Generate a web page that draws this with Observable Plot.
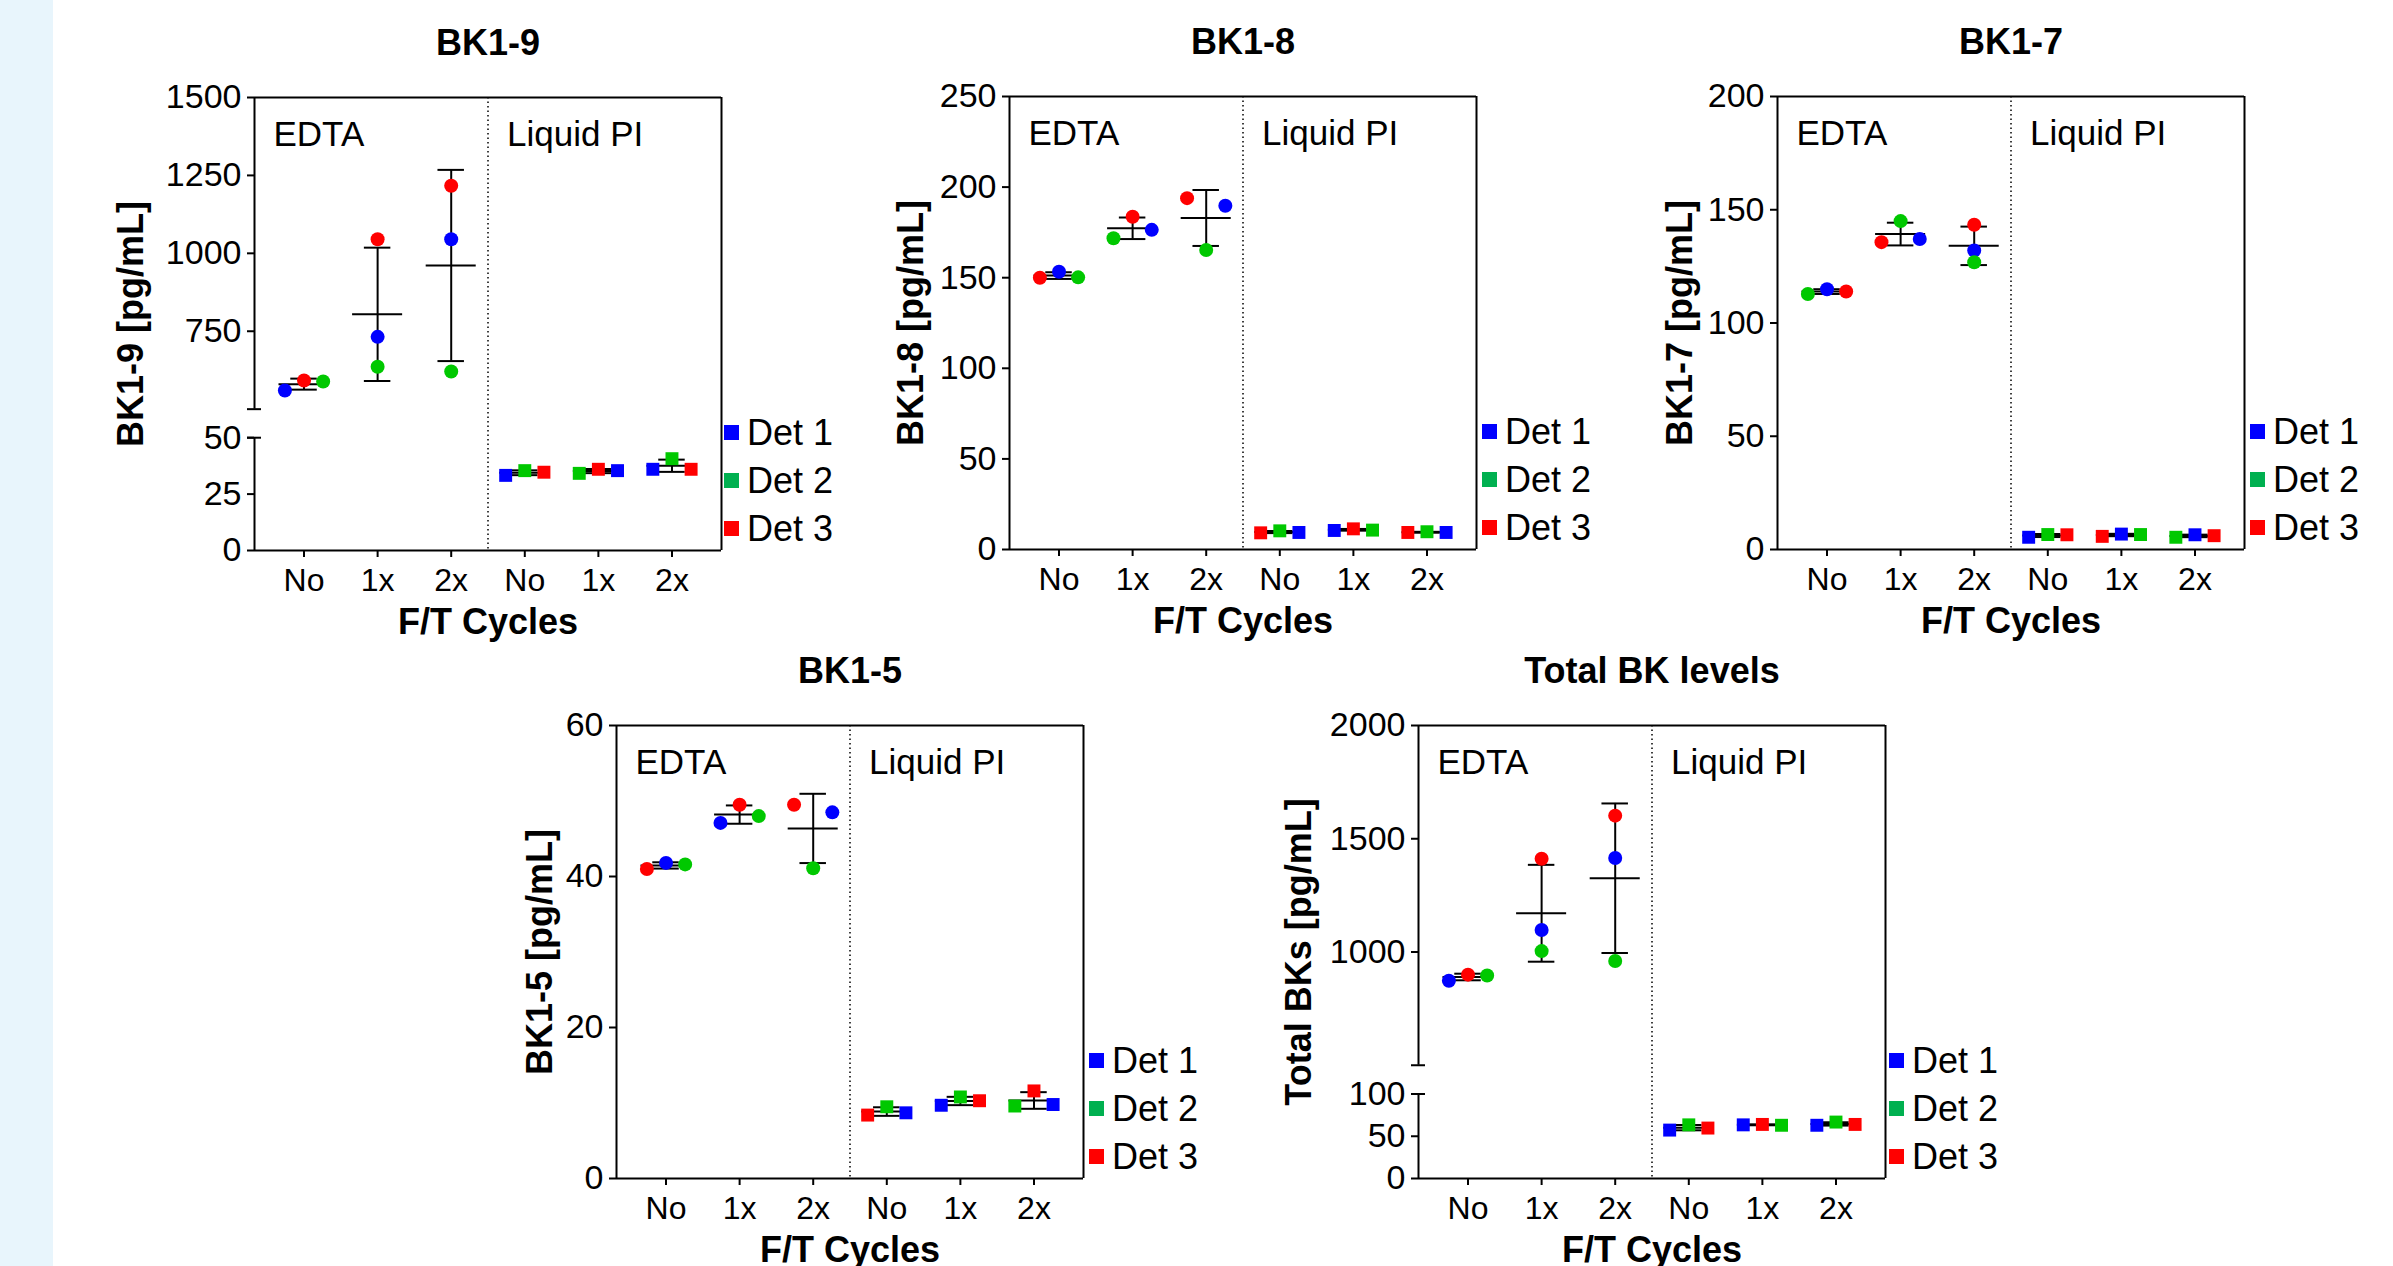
<!DOCTYPE html>
<html><head><meta charset="utf-8">
<script src="https://cdn.jsdelivr.net/npm/d3@7"></script>
<script src="https://cdn.jsdelivr.net/npm/@observablehq/plot@0.6"></script>
<style>
html,body{margin:0;padding:0;background:#fff;width:2393px;height:1266px;overflow:hidden;font-family:"Liberation Sans",Arial,sans-serif;}
#strip{position:absolute;left:0;top:0;width:53px;height:1266px;background:#e8f5fc;}
.panel{position:absolute;}
.leg{position:absolute;display:flex;align-items:center;font-size:36px;color:#000;height:40px;white-space:nowrap;line-height:40px;}
.leg .sq{display:inline-block;width:15px;height:15px;margin-right:8px;}
</style></head><body>
<div id="strip"></div>
<div id="root"></div>
<script>
// ---- categories ----
const cycles = ["No", "1x", "2x", "No", "1x", "2x"];
const groupLabels = ["EDTA", "Liquid PI"];
const detectors = ["Det 1", "Det 2", "Det 3"];
const markerColors = ["#0000ff", "#00c800", "#ff0000"];
const legendColors = ["#0000ff", "#00b050", "#ff0000"];
const xLabel = "F/T Cycles";

// ---- BK1-9 ----
const bk19Det1 = [560, 732, 1045, 33.3, 35.4, 36.0];
const bk19Det2 = [589, 636, 621, 35.4, 34.2, 40.7];
const bk19Det3 = [592, 1045, 1217, 34.7, 36.0, 36.0];
const bk19Slot1 = [-1, 0, 0, -1, 1, -1];
const bk19Slot2 = [1, 0, 0, 0, -1, 0];
const bk19Slot3 = [0, 0, 0, 1, 0, 1];
const bk19Ticks = [0, 25, 50, 750, 1000, 1250, 1500];

// ---- BK1-8 ----
const bk18Det1 = [153.3, 176.4, 189.7, 9.4, 10.5, 9.4];
const bk18Det2 = [150.2, 171.8, 165.3, 10.3, 10.7, 9.8];
const bk18Det3 = [150.0, 183.6, 193.9, 9.2, 11.4, 9.4];
const bk18Slot1 = [0, 1, 1, 1, -1, 1];
const bk18Slot2 = [1, -1, 0, 0, 1, 0];
const bk18Slot3 = [-1, 0, -1, -1, 0, -1];
const bk18Ticks = [0, 50, 100, 150, 200, 250];

// ---- BK1-7 ----
const bk17Det1 = [114.9, 137.1, 132.0, 5.4, 6.8, 6.5];
const bk17Det2 = [112.8, 145.0, 126.8, 6.6, 6.6, 5.4];
const bk17Det3 = [113.9, 135.7, 143.4, 6.5, 5.8, 6.1];
const bk17Slot1 = [0, 1, 0, -1, 0, 0];
const bk17Slot2 = [-1, 0, 0, 0, 1, -1];
const bk17Slot3 = [1, -1, 0, 1, -1, 1];
const bk17Ticks = [0, 50, 100, 150, 200];

// ---- BK1-5 ----
const bk15Det1 = [41.8, 47.1, 48.5, 8.7, 9.7, 9.8];
const bk15Det2 = [41.6, 48.0, 41.1, 9.5, 10.8, 9.6];
const bk15Det3 = [41.0, 49.5, 49.5, 8.4, 10.3, 11.6];
const bk15Slot1 = [0, -1, 1, 1, -1, 1];
const bk15Slot2 = [1, 1, 0, 0, 0, -1];
const bk15Slot3 = [-1, 0, -1, -1, 1, 0];
const bk15Ticks = [0, 20, 40, 60];

// ---- Total BK ----
const totDet1 = [873, 1097, 1415, 57.3, 63.5, 63.0];
const totDet2 = [896, 1004, 960, 63.5, 63.0, 66.8];
const totDet3 = [900, 1412, 1602, 59.7, 64.0, 64.0];
const totSlot1 = [-1, 0, 0, -1, -1, -1];
const totSlot2 = [1, 0, 0, 0, 1, 0];
const totSlot3 = [0, 0, 0, 1, 0, 1];
const totTicks = [0, 50, 100, 1000, 1500, 2000];

const panels = [
  {title: "BK1-9", yLabel: "BK1-9 [pg/mL]", values: [bk19Det1, bk19Det2, bk19Det3], slots: [bk19Slot1, bk19Slot2, bk19Slot3],
   ticks: bk19Ticks, top: 1500, brk: {low: 50, high: 500, upperFrac: 0.688, gapFrac: 0.063},
   left: 254, frameTop: 97, labelDx: -123, legGap: 3},
  {title: "BK1-8", yLabel: "BK1-8 [pg/mL]", values: [bk18Det1, bk18Det2, bk18Det3], slots: [bk18Slot1, bk18Slot2, bk18Slot3],
   ticks: bk18Ticks, top: 250, left: 1009, frameTop: 96, labelDx: -98, legGap: 6},
  {title: "BK1-7", yLabel: "BK1-7 [pg/mL]", values: [bk17Det1, bk17Det2, bk17Det3], slots: [bk17Slot1, bk17Slot2, bk17Slot3],
   ticks: bk17Ticks, top: 200, left: 1777, frameTop: 96, labelDx: -97, legGap: 6},
  {title: "BK1-5", yLabel: "BK1-5 [pg/mL]", values: [bk15Det1, bk15Det2, bk15Det3], slots: [bk15Slot1, bk15Slot2, bk15Slot3],
   ticks: bk15Ticks, top: 60, left: 616, frameTop: 725, labelDx: -76, legGap: 6},
  {title: "Total BK levels", yLabel: "Total BKs [pg/mL]", values: [totDet1, totDet2, totDet3], slots: [totSlot1, totSlot2, totSlot3],
   ticks: totTicks, top: 2000, brk: {low: 100, high: 500, upperFrac: 0.750, gapFrac: 0.0635},
   left: 1418, frameTop: 725, labelDx: -119, legGap: 4}
];

const W = 467, H = 453, ML = 170, MR = 20, MT = 80, MB = 100;
const pad = 0.673, xmin = -pad, xmax = 5 + pad;
const slotStep = 0.26, meanHalf = 0.34, capHalf = 0.18;
const FONT = "Liberation Sans, Arial, sans-serif";
const root = document.getElementById("root");

function makePanel(cfg) {
  const pts = [];
  cfg.values.forEach((vals, di) => vals.forEach((v, ci) =>
    pts.push({ci, det: detectors[di], v, slot: cfg.slots[di][ci]})));
  const stats = cycles.map((c, ci) => {
    const vs = cfg.values.map(a => a[ci]);
    const m = d3.mean(vs), s = d3.deviation(vs);
    return {ci, m, lo: m - s, hi: m + s};
  });
  let y, leftSegs, breakTicks = [];
  if (cfg.brk) {
    const b = cfg.brk;
    y = {domain: [0, b.low, b.high, cfg.top],
         range: [MT + H, MT + H * (b.upperFrac + b.gapFrac), MT + H * b.upperFrac, MT]};
    leftSegs = [{y1: 0, y2: b.low}, {y1: b.high, y2: cfg.top}];
    breakTicks = [b.low, b.high];
  } else {
    y = {domain: [0, cfg.top], range: [MT + H, MT]};
    leftSegs = [{y1: 0, y2: cfg.top}];
  }
  const svg = Plot.plot({
    width: ML + W + MR, height: MT + H + MB,
    marginLeft: ML, marginRight: MR, marginTop: MT, marginBottom: MB,
    style: {fontFamily: FONT, color: "black", background: "transparent", overflow: "visible", maxWidth: "none"},
    x: {type: "linear", domain: [xmin, xmax]},
    y: {type: "linear", ...y},
    color: {domain: detectors, range: markerColors},
    marks: [
      Plot.ruleX([2.5], {stroke: "black", strokeWidth: 1.5, strokeDasharray: "1.5,3"}),
      Plot.ruleY([cfg.top], {stroke: "black", strokeWidth: 2}),
      Plot.ruleY([0], {stroke: "black", strokeWidth: 2}),
      Plot.ruleX([xmax], {stroke: "black", strokeWidth: 2}),
      Plot.ruleX(leftSegs, {x: () => xmin, y1: "y1", y2: "y2", stroke: "black", strokeWidth: 2}),
      Plot.ruleY(breakTicks, {x1: () => xmin, x2: () => xmin, insetLeft: -7, insetRight: -7, stroke: "black", strokeWidth: 2}),
      Plot.axisY({ticks: cfg.ticks, tickFormat: d => String(d), tickSize: 7, tickPadding: 6, fontSize: 34, strokeWidth: 2, label: null}),
      Plot.axisX({ticks: [0, 1, 2, 3, 4, 5], tickFormat: i => cycles[i], tickSize: 7, tickPadding: 11, fontSize: 32, strokeWidth: 2, label: null}),
      Plot.ruleX(stats, {x: "ci", y1: "lo", y2: "hi", stroke: "black", strokeWidth: 2}),
      Plot.ruleY(stats, {y: "lo", x1: d => d.ci - capHalf, x2: d => d.ci + capHalf, stroke: "black", strokeWidth: 2}),
      Plot.ruleY(stats, {y: "hi", x1: d => d.ci - capHalf, x2: d => d.ci + capHalf, stroke: "black", strokeWidth: 2}),
      Plot.ruleY(stats, {y: "m", x1: d => d.ci - meanHalf, x2: d => d.ci + meanHalf, stroke: "black", strokeWidth: 2}),
      Plot.dot(pts.filter(d => d.ci < 3), {x: d => d.ci + d.slot * slotStep, y: "v", fill: "det", r: 7}),
      Plot.dot(pts.filter(d => d.ci >= 3), {x: d => d.ci + d.slot * slotStep, y: "v", fill: "det", symbol: "square", r: 7.3}),
      Plot.text([{x: xmin, t: groupLabels[0]}, {x: 2.5, t: groupLabels[1]}],
        {x: "x", text: "t", frameAnchor: "top", dy: 37, dx: 19, textAnchor: "start", lineAnchor: "middle", fontSize: 35, fill: "black"}),
      Plot.text([cfg.title], {text: d => d, frameAnchor: "top", dy: -54, textAnchor: "middle", lineAnchor: "middle", fontSize: 36, fontWeight: "bold", fill: "black"}),
      Plot.text([xLabel], {text: d => d, frameAnchor: "bottom", dy: 72, textAnchor: "middle", lineAnchor: "middle", fontSize: 36, fontWeight: "bold", fill: "black"}),
      Plot.text([cfg.yLabel], {text: d => d, frameAnchor: "left", rotate: -90, dx: cfg.labelDx, textAnchor: "middle", lineAnchor: "middle", fontSize: 36, fontWeight: "bold", fill: "black"})
    ]
  });
  const div = document.createElement("div");
  div.className = "panel";
  div.style.left = (cfg.left - ML) + "px";
  div.style.top = (cfg.frameTop - MT) + "px";
  div.appendChild(svg);
  root.appendChild(div);

  const legOffsets = [-117.5, -69.5, -21.5];
  detectors.forEach((d, i) => {
    const leg = document.createElement("div");
    leg.className = "leg";
    leg.style.left = (cfg.left + W + cfg.legGap) + "px";
    leg.style.top = (cfg.frameTop + H + legOffsets[i] - 20) + "px";
    const sq = document.createElement("span");
    sq.className = "sq";
    sq.style.background = legendColors[i];
    leg.appendChild(sq);
    leg.appendChild(document.createTextNode(d));
    root.appendChild(leg);
  });
}
panels.forEach(makePanel);
</script>
</body></html>
